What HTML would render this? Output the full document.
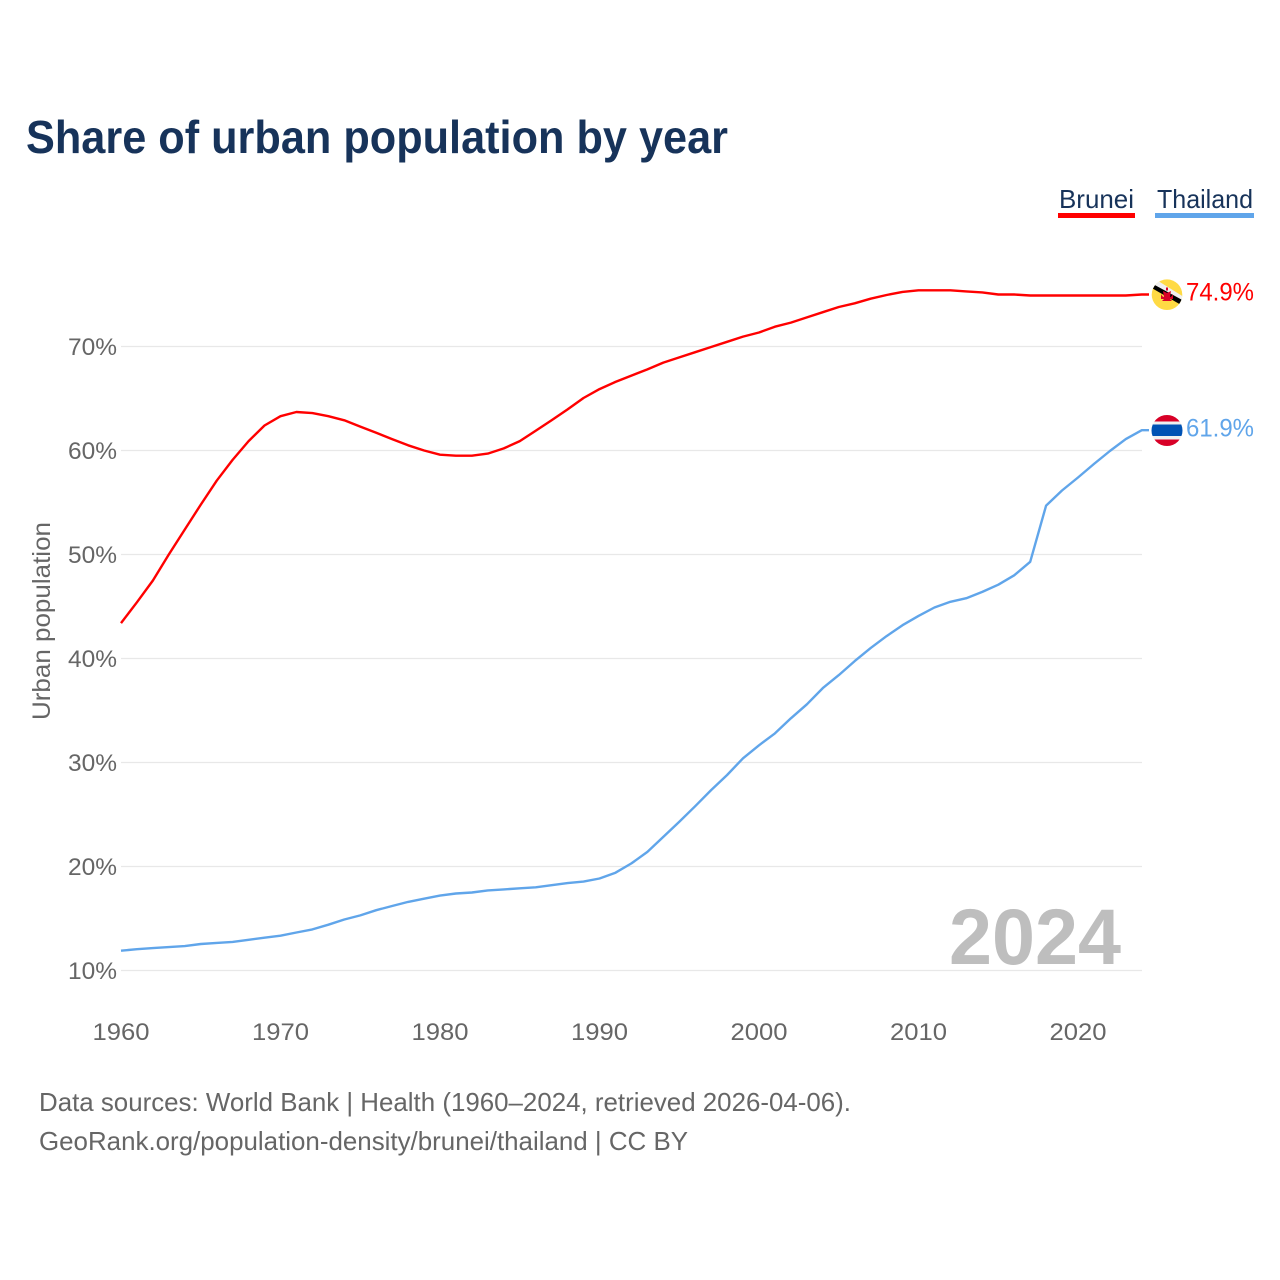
<!DOCTYPE html>
<html lang="en">
<head>
<meta charset="utf-8">
<title>Share of urban population by year</title>
<style>
html,body{margin:0;padding:0;background:#fff;}
svg{display:block;}
text{font-family:"Liberation Sans",sans-serif;}
</style>
</head>
<body>
<svg id="chart" xmlns="http://www.w3.org/2000/svg" width="1280" height="1280" viewBox="0 0 1280 1280">
  <rect x="0" y="0" width="1280" height="1280" fill="#ffffff"/>
  <text x="26" y="153" font-size="46" font-weight="700" fill="#17335a" textLength="702" lengthAdjust="spacingAndGlyphs">Share of urban population by year</text>

  <text x="1059" y="208" font-size="26" fill="#17335a" textLength="75" lengthAdjust="spacingAndGlyphs">Brunei</text>
  <rect x="1058" y="213" width="77" height="5" fill="#ff0000"/>
  <text x="1157" y="208" font-size="26" fill="#17335a" textLength="96" lengthAdjust="spacingAndGlyphs">Thailand</text>
  <rect x="1155" y="213" width="99" height="5" fill="#60a5ea"/>

  <g id="grid"></g>
  <g id="y-ticks"></g>
  <g id="x-ticks"></g>
  <text transform="translate(50,720) rotate(-90)" x="0" y="0" font-size="25" fill="#666666" textLength="198" lengthAdjust="spacingAndGlyphs">Urban population</text>

  <text x="949" y="964" font-size="79" font-weight="700" fill="#bebebe" textLength="172" lengthAdjust="spacingAndGlyphs">2024</text>

  <g id="series"></g>

  <defs>
    <clipPath id="clip-brunei"><circle cx="1167" cy="294.7" r="15.3"/></clipPath>
    <clipPath id="clip-thailand"><circle cx="1167" cy="430.5" r="15.5"/></clipPath>
  </defs>
  <g clip-path="url(#clip-brunei)">
    <rect x="1151" y="279" width="32" height="32" fill="#ffda44"/>
    <polygon points="1150,283 1155,279 1184,297 1184,302" fill="#f0f0f0"/>
    <polygon points="1150,287 1152,283.5 1184,301 1182,305.5" fill="#000000"/>
    <path d="M1166 287.5h2v3h-2z M1161 294c1 2 2 3 3 3l-1-6 4 2 4-2-1 6c1 0 2-1 3-3v5h-3l2 2h-10l2-2h-3z" fill="#d80027"/>
  </g>
  <g clip-path="url(#clip-thailand)">
    <rect x="1151" y="415" width="32" height="31" fill="#f0f0f0"/>
    <rect x="1151" y="415" width="32" height="6.5" fill="#d80027"/>
    <rect x="1151" y="439.5" width="32" height="6.5" fill="#d80027"/>
    <rect x="1151" y="424.5" width="32" height="11.5" fill="#0052b4"/>
  </g>

  <text x="1186" y="300.5" font-size="25" fill="#ff0000" textLength="68" lengthAdjust="spacingAndGlyphs">74.9%</text>
  <text x="1186" y="436.5" font-size="25" fill="#60a5ea" textLength="68" lengthAdjust="spacingAndGlyphs">61.9%</text>

  <text x="39" y="1111" font-size="26" fill="#666666" textLength="812" lengthAdjust="spacingAndGlyphs">Data sources: World Bank | Health (1960–2024, retrieved 2026-04-06).</text>
  <text x="39" y="1150" font-size="26" fill="#666666" textLength="649" lengthAdjust="spacingAndGlyphs">GeoRank.org/population-density/brunei/thailand | CC BY</text>
</svg>
<script>
const firstYear = 1960;
const yTickValues = [10, 20, 30, 40, 50, 60, 70];
const yTickLabels = ["10%", "20%", "30%", "40%", "50%", "60%", "70%"];
const xTickValues = [1960, 1970, 1980, 1990, 2000, 2010, 2020];
const xTickLabels = ["1960", "1970", "1980", "1990", "2000", "2010", "2020"];
const bruneiValues = [43.4,45.4,47.5,50,52.4,54.8,57.1,59.1,60.9,62.4,63.3,63.7,63.6,63.3,62.9,62.3,61.7,61.1,60.5,60,59.6,59.5,59.5,59.7,60.2,60.9,61.9,62.9,63.95,65.05,65.9,66.6,67.2,67.8,68.45,68.95,69.45,69.95,70.45,70.95,71.35,71.9,72.3,72.8,73.3,73.8,74.15,74.6,74.95,75.25,75.4,75.4,75.4,75.3,75.2,75.0,75.0,74.9,74.9,74.9,74.9,74.9,74.9,74.9,75.0];
const thailandValues = [11.9,12.05,12.15,12.25,12.35,12.55,12.65,12.75,12.95,13.15,13.35,13.65,13.95,14.4,14.9,15.3,15.8,16.2,16.6,16.9,17.2,17.4,17.5,17.7,17.8,17.9,18,18.2,18.4,18.55,18.85,19.4,20.3,21.4,22.85,24.3,25.8,27.35,28.8,30.4,31.65,32.8,34.25,35.6,37.15,38.4,39.75,41,42.15,43.2,44.1,44.9,45.45,45.8,46.4,47.1,48,49.3,54.7,56.15,57.4,58.7,59.95,61.1,61.95];

const NS = "http://www.w3.org/2000/svg";
function xScale(year) { return 121 + (year - 1960) * 15.95; }
function yScale(value) { return 970.5 - (value - 10) * 10.4; }

const grid = document.getElementById("grid");
const yTicks = document.getElementById("y-ticks");
const xTicks = document.getElementById("x-ticks");
const seriesGroup = document.getElementById("series");

yTickValues.forEach(function (v, i) {
  const line = document.createElementNS(NS, "line");
  
  
  line.setAttribute("x1", 121);
  line.setAttribute("x2", 1142);
  line.setAttribute("y1", yScale(v));
  line.setAttribute("y2", yScale(v));
  line.setAttribute("stroke", "#e8e8e8");
  line.setAttribute("stroke-width", "1.3");
  grid.appendChild(line);

  const label = document.createElementNS(NS, "text");
  
  
  label.setAttribute("x", 117);
  label.setAttribute("y", yScale(v) + 8.5);
  label.setAttribute("text-anchor", "end");
  label.setAttribute("font-size", "24");
  label.setAttribute("fill", "#666666");
  label.setAttribute("textLength", "49");
  label.setAttribute("lengthAdjust", "spacingAndGlyphs");
  label.textContent = yTickLabels[i];
  yTicks.appendChild(label);
});

xTickValues.forEach(function (v, i) {
  const label = document.createElementNS(NS, "text");
  
  
  label.setAttribute("x", xScale(v));
  label.setAttribute("y", 1040);
  label.setAttribute("text-anchor", "middle");
  label.setAttribute("font-size", "24");
  label.setAttribute("fill", "#666666");
  label.setAttribute("textLength", "57");
  label.setAttribute("lengthAdjust", "spacingAndGlyphs");
  label.textContent = xTickLabels[i];
  xTicks.appendChild(label);
});

function buildPath(values) {
  const pts = values.map(function (v, i) {
    return xScale(firstYear + i).toFixed(1) + "," + yScale(v).toFixed(1);
  });
  const last = values[values.length - 1];
  pts.push("1149," + yScale(last).toFixed(1));
  return "M" + pts.join("L");
}

const bruneiLine = document.createElementNS(NS, "path");


bruneiLine.setAttribute("d", buildPath(bruneiValues));
bruneiLine.setAttribute("fill", "none");
bruneiLine.setAttribute("stroke", "#ff0000");
bruneiLine.setAttribute("stroke-width", "2.4");
bruneiLine.setAttribute("stroke-linejoin", "round");
seriesGroup.appendChild(bruneiLine);

const thailandLine = document.createElementNS(NS, "path");


thailandLine.setAttribute("d", buildPath(thailandValues));
thailandLine.setAttribute("fill", "none");
thailandLine.setAttribute("stroke", "#60a5ea");
thailandLine.setAttribute("stroke-width", "2.4");
thailandLine.setAttribute("stroke-linejoin", "round");
seriesGroup.appendChild(thailandLine);
</script>
</body>
</html>
